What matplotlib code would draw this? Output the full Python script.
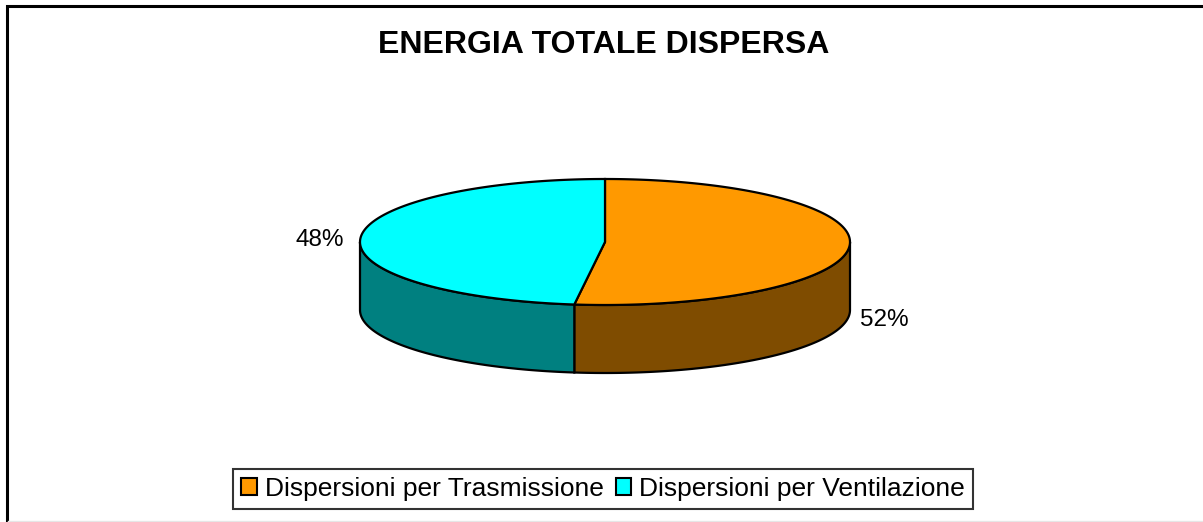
import numpy as np
import matplotlib.pyplot as plt
from matplotlib.patches import Polygon, Patch

# data
categories = ['Dispersioni per Trasmissione', 'Dispersioni per Ventilazione']
values = [52, 48]
pct_labels = ['52%', '48%']
top_colors = ['#FF9900', '#00FFFF']
side_colors = ['#7F4C00', '#008080']

plt.rcParams['font.family'] = ['Liberation Sans', 'DejaVu Sans']

W, H = 1203, 522
fig = plt.figure(figsize=(W / 100, H / 100), dpi=100)
ax = fig.add_axes([0, 0, 1, 1])
ax.set_xlim(0, W)
ax.set_ylim(H, 0)
ax.axis('off')

# outer chart frame (only top and left edges visible in the crop)
ax.plot([7, 7, W], [H, 6, 6], color='black', lw=2.2, solid_joinstyle='miter', zorder=1)
ax.plot([8, W], [520.5, 520.5], color='#e6e6e6', lw=1, zorder=1)

# pie geometry (pixels)
cx, cy = 605, 242
rx, ry = 245, 63
depth = 68


def pt(theta_deg, dy=0.0):
    t = np.radians(theta_deg)
    return cx + rx * np.sin(t), cy - ry * np.cos(t) + dy


fracs = np.array(values, dtype=float) / sum(values)
starts = np.concatenate([[0], np.cumsum(fracs)[:-1]]) * 360
ends = np.cumsum(fracs) * 360

# side walls (front half only: 90..270 deg clockwise from top)
for s, e, col in zip(starts, ends, side_colors):
    a, b = max(s, 90), min(e, 270)
    if a >= b:
        continue
    th = np.linspace(a, b, 100)
    upper = [pt(t) for t in th]
    lower = [pt(t, depth) for t in th[::-1]]
    ax.add_patch(Polygon(upper + lower, closed=True, fc=col, ec='black', lw=1.6, zorder=2))

# top faces
for s, e, col in zip(starts, ends, top_colors):
    th = np.linspace(s, e, 200)
    pts = [(cx, cy)] + [pt(t) for t in th]
    ax.add_patch(Polygon(pts, closed=True, fc=col, ec='black', lw=1.6, zorder=3))

# percentage labels
ax.text(884, 320, pct_labels[0], fontsize=17.5, ha='center', va='center')
ax.text(320, 240, pct_labels[1], fontsize=17.5, ha='center', va='center')

ax.text(604, 45, 'ENERGIA TOTALE DISPERSA', fontsize=23, fontweight='bold',
        ha='center', va='center')

handles = [Patch(fc=c, ec='black', lw=1.5) for c in top_colors]
leg = fig.legend(handles, categories, loc='center', bbox_to_anchor=(603 / W, 1 - 489 / H),
                 ncol=2, fontsize=19, frameon=True, fancybox=False, edgecolor='black',
                 handlelength=0.6, handleheight=0.6, handletextpad=0.3,
                 columnspacing=0.45, borderpad=0.3, borderaxespad=0)
leg.get_frame().set_linewidth(1.5)

fig.savefig('out.png', dpi=100)
